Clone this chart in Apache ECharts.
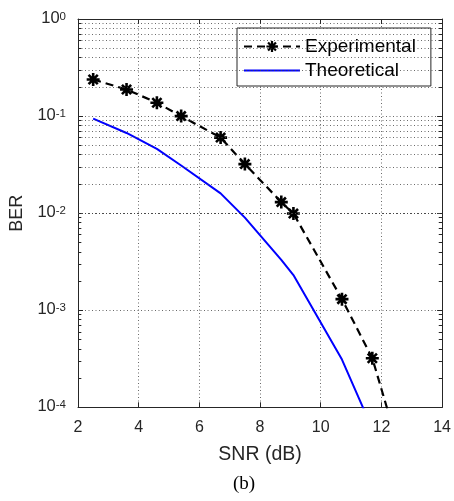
<!DOCTYPE html>
<html>
<head>
<meta charset="utf-8">
<script src="https://cdn.jsdelivr.net/npm/echarts@6/dist/echarts.min.js"></script>
<style>html,body{margin:0;padding:0;background:#fff}#c{width:454px;height:501px}</style>
</head>
<body>
<div id="c"></div>
<script>
// ---- data ----
const snrExp = [2.5, 3.6, 4.6, 5.4, 6.7, 7.5, 8.7, 9.1, 10.7, 11.7, 12.7];
const berExp = [0.238, 0.188, 0.137, 0.100, 0.060, 0.032, 0.0130, 0.0099, 0.0013, 0.00032, 0.000028];
const snrThe = [2.5, 3.6, 4.6, 5.4, 6.7, 7.5, 8.7, 9.1, 10.7, 11.7];
const berThe = [0.094, 0.067, 0.046, 0.031, 0.016, 0.009, 0.0033, 0.0023, 0.00031, 0.00006];
const xTicks = [2, 4, 6, 8, 10, 12, 14];
const yDecades = [1e-4, 1e-3, 1e-2, 1e-1, 1];
const minorMult = [2, 3, 4, 5, 6, 7, 8, 9];
const seriesNames = ['Experimental', 'Theoretical'];
const xName = 'SNR (dB)';
const yName = 'BER';
const caption = '(b)';

const minorVals = [];
yDecades.slice(0, -1).forEach(d => minorMult.forEach(m => minorVals.push(d * m)));

const axisColor = '#262626';
const gridDot = {type: [1, 2.5], color: '#444', width: 0.8};
const star = 'path://M8 0L12 0L12 20L8 20ZM0 8L20 8L20 12L0 12ZM4.34 1.52L18.48 15.66L15.66 18.48L1.52 4.34ZM15.66 1.52L18.48 4.34L4.34 18.48L1.52 15.66Z';
const solidIcon = 'path://M0 0L28 0L28 1L0 1Z';
const xMin = xTicks[0], xMax = xTicks[xTicks.length - 1];

const minorLines = [];
minorVals.forEach(v => {
  minorLines.push({yAxis: v});
  minorLines.push([{coord: [xMin, v], lineStyle: {type: 'solid', color: axisColor, width: 1}}, {coord: [xMin + 0.11, v]}]);
  minorLines.push([{coord: [xMax - 0.11, v], lineStyle: {type: 'solid', color: axisColor, width: 1}}, {coord: [xMax, v]}]);
});

const chart = echarts.init(document.getElementById('c'), null, {renderer: 'canvas'});
const font = 'Liberation Sans, Arial, Helvetica, sans-serif';
chart.setOption({
  animation: false,
  backgroundColor: '#fff',
  grid: {left: 73.5, top: 13.7, right: 10.3, bottom: 93.7, containLabel: false},
  legend: {
    data: [{name: seriesNames[0]}, {name: seriesNames[1], icon: solidIcon}],
    orient: 'vertical',
    left: 237, top: 28,
    padding: [9, 15, 6, 6],
    itemWidth: 56, itemHeight: 14, itemGap: 5,
    symbolKeepAspect: true,
    backgroundColor: '#fff',
    borderColor: axisColor, borderWidth: 1,
    textStyle: {fontFamily: font, fontSize: 19, color: '#000'}
  },
  xAxis: [{
    type: 'value', min: xMin, max: xMax, interval: 2,
    name: xName, nameLocation: 'middle', nameGap: 37,
    nameTextStyle: {fontFamily: font, fontSize: 19.5, color: axisColor},
    axisLine: {lineStyle: {color: axisColor, width: 1}},
    axisTick: {inside: true, length: 5, lineStyle: {color: axisColor}},
    axisLabel: {fontFamily: font, fontSize: 16, color: axisColor, margin: 12},
    splitLine: {show: true, lineStyle: gridDot}
  }, {
    type: 'value', min: xMin, max: xMax, interval: 2, position: 'top',
    axisLine: {show: true, onZero: false, lineStyle: {color: axisColor, width: 1}},
    axisTick: {inside: true, length: 5, lineStyle: {color: axisColor}},
    axisLabel: {show: false}, splitLine: {show: false}
  }],
  yAxis: [{
    type: 'log', logBase: 10, min: yDecades[0], max: yDecades[yDecades.length - 1], splitNumber: 4,
    name: yName, nameLocation: 'middle', nameGap: 52, nameRotate: 90,
    nameTextStyle: {fontFamily: font, fontSize: 18, color: axisColor},
    axisLine: {show: true, lineStyle: {color: axisColor, width: 1}},
    axisTick: {show: true, inside: true, length: 5, lineStyle: {color: axisColor}},
    axisLabel: {
      margin: 12,
      formatter: v => '{b|10}{s|' + Math.round(Math.log10(v)) + '}',
      rich: {
        b: {fontFamily: font, fontSize: 16.5, color: axisColor, verticalAlign: 'bottom', lineHeight: 16, padding: [10, 0, 0, 0]},
        s: {fontFamily: font, fontSize: 11.5, color: axisColor, verticalAlign: 'top', lineHeight: 11, padding: [0, 0, 15, 0]}
      }
    },
    splitLine: {show: true, lineStyle: gridDot}
  }, {
    type: 'log', logBase: 10, min: yDecades[0], max: yDecades[yDecades.length - 1], splitNumber: 4, position: 'right',
    axisLine: {show: true, onZero: false, lineStyle: {color: axisColor, width: 1}},
    axisTick: {show: true, inside: true, length: 5, lineStyle: {color: axisColor}},
    axisLabel: {show: false}, splitLine: {show: false}
  }],
  series: [{
    name: 'minor', type: 'line', data: [], silent: true, z: 1,
    markLine: {silent: true, symbol: ['none', 'none'], label: {show: false}, animation: false,
      lineStyle: gridDot, emphasis: {disabled: true}, data: minorLines}
  }, {
    name: seriesNames[0], type: 'line', z: 4,
    data: snrExp.map((x, i) => [x, berExp[i]]),
    symbol: star, symbolSize: 13, showSymbol: true,
    itemStyle: {color: '#000'},
    lineStyle: {color: '#000', width: 2.2, type: [8, 5]}
  }, {
    name: seriesNames[1], type: 'line', z: 3,
    data: snrThe.map((x, i) => [x, berThe[i]]),
    symbol: 'none',
    itemStyle: {color: '#0000ff'},
    lineStyle: {color: '#0000ff', width: 2}
  }],
  graphic: [{
    type: 'text', x: 244, y: 484,
    style: {text: caption, fontFamily: 'Liberation Serif, Times New Roman, serif', fontSize: 19, fill: '#000', textAlign: 'center', textVerticalAlign: 'middle'}
  }]
});
</script>
</body>
</html>
